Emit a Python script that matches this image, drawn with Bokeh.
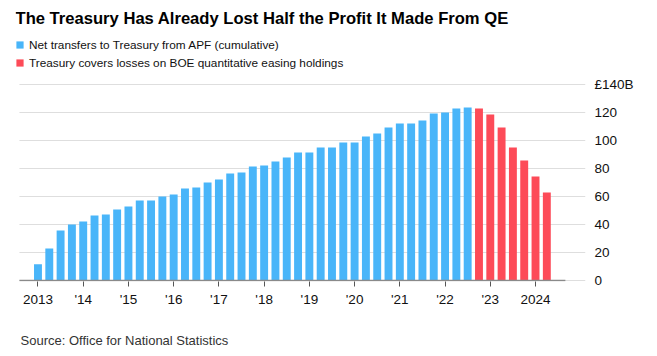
from bokeh.plotting import figure
from bokeh.models import Range1d, FixedTicker, Legend, LegendItem, Label
from bokeh.embed import file_html
from bokeh.resources import INLINE

# ---- data (GBP billions, quarterly, cumulative) ----
start_year = 2013
transfers = [11.7, 22.9, 35.7, 40.0, 42.1, 46.4, 47.1, 50.7, 52.9, 57.1,
             57.1, 60.0, 61.4, 65.7, 66.4, 70.0, 72.1, 76.4, 77.1, 81.4,
             82.1, 85.0, 87.9, 91.4, 91.4, 95.0, 95.0, 98.6, 98.6, 102.9,
             105.0, 109.3, 112.1, 112.1, 114.3, 119.3, 120.0, 122.9, 123.6]
losses = [122.9, 118.6, 109.3, 95.0, 85.7, 74.3, 62.9]
x_ticks = [2013, 2014, 2015, 2016, 2017, 2018, 2019, 2020, 2021, 2022, 2023, 2024]
x_tick_labels = ["2013", "'14", "'15", "'16", "'17", "'18", "'19", "'20",
                 "'21", "'22", "'23", "2024"]
y_ticks = [0, 20, 40, 60, 80, 100, 120, 140]
y_tick_labels = ["0", "20", "40", "60", "80", "100", "120", "£140B"]
series_names = ["Net transfers to Treasury from APF (cumulative)",
                "Treasury covers losses on BOE quantitative easing holdings"]
title_text = "The Treasury Has Already Lost Half the Profit It Made From QE"
source_text = "Source: Office for National Statistics"

BLUE = "#49b5f9"
RED = "#fd4b58"
GRID = "#dedede"

n_blue = len(transfers)
x_blue = [start_year + i / 4 for i in range(n_blue)]
x_red = [start_year + (n_blue + i) / 4 for i in range(len(losses))]
all_x = x_blue + x_red
pad = 0.41          # axis/grid extent beyond first and last bar (years)
x_lo = all_x[0] - 0.497
x_hi = all_x[-1] + 0.855
y_top = 200.0       # frame extends up to the canvas top for header texts

p = figure(width=657, height=356, output_backend="svg", toolbar_location=None,
           x_range=Range1d(x_lo, x_hi),
           y_range=Range1d(-0.71, y_top),
           y_axis_location="right",
           min_border_left=15, min_border_right=72,
           min_border_top=0, min_border_bottom=75)
p.outline_line_color = None
p.background_fill_color = "white"
p.border_fill_color = "white"

# gridlines (from axis start to frame right edge)
p.segment(x0=[all_x[0] - pad] * len(y_ticks), y0=y_ticks,
          x1=[x_hi] * len(y_ticks), y1=y_ticks,
          line_color=GRID, line_width=1)

r_blue = p.vbar(x=x_blue, top=transfers, bottom=0, width=0.175,
                fill_color=BLUE, line_color=None)
r_red = p.vbar(x=x_red, top=losses, bottom=0, width=0.175,
               fill_color=RED, line_color=None)

# axis line spanning only the bar region
p.segment(x0=[all_x[0] - pad], y0=[0], x1=[all_x[-1] + pad], y1=[0],
          line_color="#8a8a8a", line_width=1.3)

# x axis
xa = p.xaxis[0]
xa.ticker = FixedTicker(ticks=x_ticks)
xa.major_label_overrides = {t: l for t, l in zip(x_ticks, x_tick_labels)}
xa.axis_line_color = None
xa.major_tick_line_color = "#555555"
xa.major_tick_out = 5
xa.major_tick_in = 0
xa.minor_tick_line_color = None
xa.major_label_text_font = "Liberation Sans"
xa.major_label_text_font_size = "13.5px"
xa.major_label_text_color = "#111111"
xa.major_label_standoff = 5

# y axis (right)
ya = p.yaxis[0]
ya.ticker = FixedTicker(ticks=y_ticks)
ya.major_label_overrides = {t: l for t, l in zip(y_ticks, y_tick_labels)}
ya.axis_line_color = None
ya.major_tick_line_color = None
ya.minor_tick_line_color = None
ya.major_label_text_font = "Liberation Sans"
ya.major_label_text_font_size = "13.5px"
ya.major_label_text_color = "#111111"
ya.major_label_standoff = 3

p.xgrid.grid_line_color = None
p.ygrid.grid_line_color = None

# title
p.add_layout(Label(x=0, y=263, x_units="screen", y_units="screen",
                   text=title_text, text_font="Liberation Sans",
                   text_font_style="bold", text_font_size="16.6px",
                   text_color="#000000", text_baseline="middle"))

# legend
legend = Legend(items=[LegendItem(label=series_names[0], renderers=[r_blue]),
                       LegendItem(label=series_names[1], renderers=[r_red])],
                location=(0, 211.5), orientation="vertical",
                glyph_width=9, glyph_height=9, label_height=13, spacing=4,
                label_standoff=5, padding=0, margin=0,
                border_line_color=None, background_fill_alpha=0,
                label_text_font="Liberation Sans",
                label_text_font_size="11.8px", label_text_color="#111111")
p.add_layout(legend)

# source (in the bottom panel, below the x axis)
p.add_layout(Label(x=5, y=-16, x_units="screen", y_units="screen",
                   text=source_text, text_font="Liberation Sans",
                   text_font_size="13px", text_color="#333333",
                   text_baseline="middle"), "below")

open("out.html", "w").write(file_html(p, INLINE))
